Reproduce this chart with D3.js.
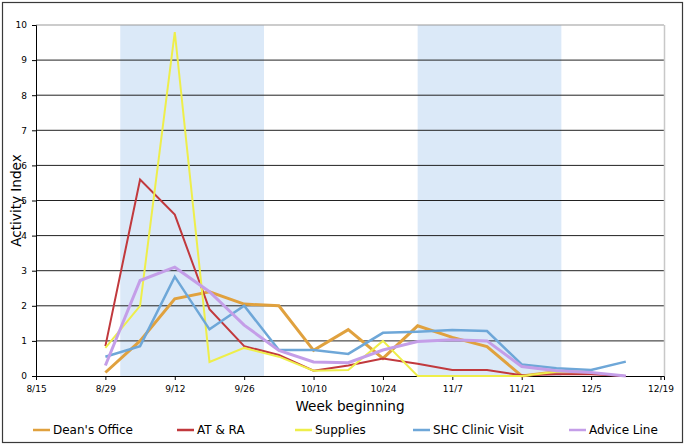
<!DOCTYPE html>
<html>
<head>
<meta charset="utf-8">
<script src="https://cdn.jsdelivr.net/npm/d3@7"></script>
<style>
  body { margin: 0; background: #fff; }
  svg { display: block; }
  text { font-family: "DejaVu Sans", Verdana, sans-serif; fill: #000; }
</style>
</head>
<body>
<svg id="chart" width="685" height="446"></svg>
<script>
// ---- data ----
const weeks = ["2011-08-29","2011-09-05","2011-09-12","2011-09-19","2011-09-26","2011-10-03","2011-10-10","2011-10-17","2011-10-24","2011-10-31","2011-11-07","2011-11-14","2011-11-21","2011-11-28","2011-12-05","2011-12-12"];
const deansOffice = [0.1, 1.0, 2.2, 2.4, 2.05, 2.0, 0.73, 1.32, 0.5, 1.43, 1.1, 0.84, 0.0, 0.12, 0.1, null];
const atRa        = [0.85, 5.6, 4.6, 1.9, 0.85, 0.6, 0.15, 0.3, 0.5, 0.35, 0.17, 0.17, 0.02, 0.05, 0.05, 0.0];
const supplies    = [0.8, 2.0, 9.8, 0.4, 0.8, 0.55, 0.15, 0.17, 1.0, 0.0, 0.0, 0.0, 0.0, 0.12, 0.12, null];
const shcClinic   = [0.55, 0.85, 2.83, 1.33, 2.0, 0.74, 0.74, 0.63, 1.23, 1.26, 1.31, 1.28, 0.33, 0.22, 0.17, 0.41];
const adviceLine  = [0.3, 2.72, 3.1, 2.4, 1.45, 0.73, 0.4, 0.38, 0.74, 0.98, 1.03, 1.0, 0.27, 0.15, 0.1, 0.0];
const seriesNames = ["Dean's Office", "AT & RA", "Supplies", "SHC Clinic Visit", "Advice Line"];
const xTickLabels = ["8/15","8/29","9/12","9/26","10/10","10/24","11/7","11/21","12/5","12/19"];
const yTicks = [0,1,2,3,4,5,6,7,8,9,10];
const bandStarts = ["2011-09-01", "2011-10-31"];
const bandEnds   = ["2011-09-30", "2011-11-29"];
const xTitle = "Week beginning";
const yTitle = "Activity Index";

// ---- styles ----
const colors = ["#e0a13e", "#c1393d", "#eeee4a", "#6ea7d8", "#c49ee8"];
const widths = [3, 2, 2, 2.5, 3];
const legendX = [33, 177, 295, 413, 569];

const parse = d3.timeParse("%Y-%m-%d");
const svg = d3.select("#chart");
const L = 36, R = 664, T = 25, B = 376;

const x = d3.scaleTime()
  .domain([parse("2011-08-15"), d3.timeHour.offset(parse("2011-12-19"), 17)])
  .range([L, R]);
const y = d3.scaleLinear().domain([0, 10]).range([B, T]);

// outer frame
svg.append("rect").attr("x", 2.5).attr("y", 2.5).attr("width", 680).attr("height", 440)
  .attr("fill", "#fff").attr("stroke", "#3a3a3a").attr("stroke-width", 1.2);

// bands
svg.append("g").selectAll("rect").data(bandStarts).join("rect")
  .attr("x", (d) => x(parse(d)))
  .attr("width", (d, i) => x(parse(bandEnds[i])) - x(parse(d)))
  .attr("y", T).attr("height", B - T)
  .attr("fill", "#dbe9f8");

// grid
svg.append("g").selectAll("line").data(yTicks.filter(v => v > 0)).join("line")
  .attr("x1", L).attr("x2", R)
  .attr("y1", d => y(d)).attr("y2", d => y(d))
  .attr("stroke", d => d === 10 ? "#999" : "#222").attr("stroke-width", 1);

// right border
svg.append("line").attr("x1", R + 0.5).attr("x2", R + 0.5).attr("y1", T).attr("y2", B)
  .attr("stroke", "#c8c8c8").attr("stroke-width", 1.5);

// axes
const tickDates = xTickLabels.map(s => {
  const [m, d] = s.split("/").map(Number);
  return new Date(2011, m - 1, d);
});
const xAxis = svg.append("g").attr("transform", `translate(0,${B})`)
  .call(d3.axisBottom(x).tickValues(tickDates).tickFormat((d, i) => xTickLabels[i]).tickSize(4).tickPadding(6));
xAxis.select(".domain").attr("stroke", "#000");
xAxis.selectAll(".tick line").attr("stroke", "#000");
xAxis.selectAll(".tick text").style("font-family", "'DejaVu Sans', Verdana, sans-serif").style("font-size", "9px").attr("fill", "#000");

const yAxis = svg.append("g").attr("transform", `translate(${L},0)`)
  .call(d3.axisLeft(y).tickValues(yTicks).tickFormat(d3.format("d")).tickSize(4).tickPadding(5));
yAxis.select(".domain").attr("stroke", "#000");
yAxis.selectAll(".tick line").attr("stroke", "#000");
yAxis.selectAll(".tick text").style("font-family", "'DejaVu Sans', Verdana, sans-serif").style("font-size", "9px").attr("fill", "#000");

// lines
const allSeries = [deansOffice, atRa, supplies, shcClinic, adviceLine];
const line = d3.line()
  .defined(d => d.v !== null)
  .x(d => x(d.date)).y(d => y(d.v));
allSeries.forEach((vals, i) => {
  const pts = weeks.map((w, j) => ({ date: parse(w), v: vals[j] }));
  svg.append("path").datum(pts)
    .attr("d", line)
    .attr("fill", "none")
    .attr("stroke", colors[i])
    .attr("stroke-width", widths[i])
    .attr("stroke-linejoin", "miter");
});

// titles
svg.append("text").attr("x", (L + R) / 2).attr("y", 411).attr("text-anchor", "middle")
  .style("font-size", "13.6px").text(xTitle);
svg.append("text").attr("transform", `translate(21,${(T + B) / 2}) rotate(-90)`)
  .attr("text-anchor", "middle").style("font-size", "13.6px").text(yTitle);

// legend
const lg = svg.append("g").selectAll("g").data(seriesNames).join("g")
  .attr("transform", (d, i) => `translate(${legendX[i]},430)`);
lg.append("line").attr("x1", 0).attr("x2", 17).attr("y1", 0).attr("y2", 0)
  .attr("stroke", (d, i) => colors[i]).attr("stroke-width", 2.5);
lg.append("text").attr("x", 20).attr("y", 4.3).style("font-size", "12px").text(d => d);
</script>
</body>
</html>
